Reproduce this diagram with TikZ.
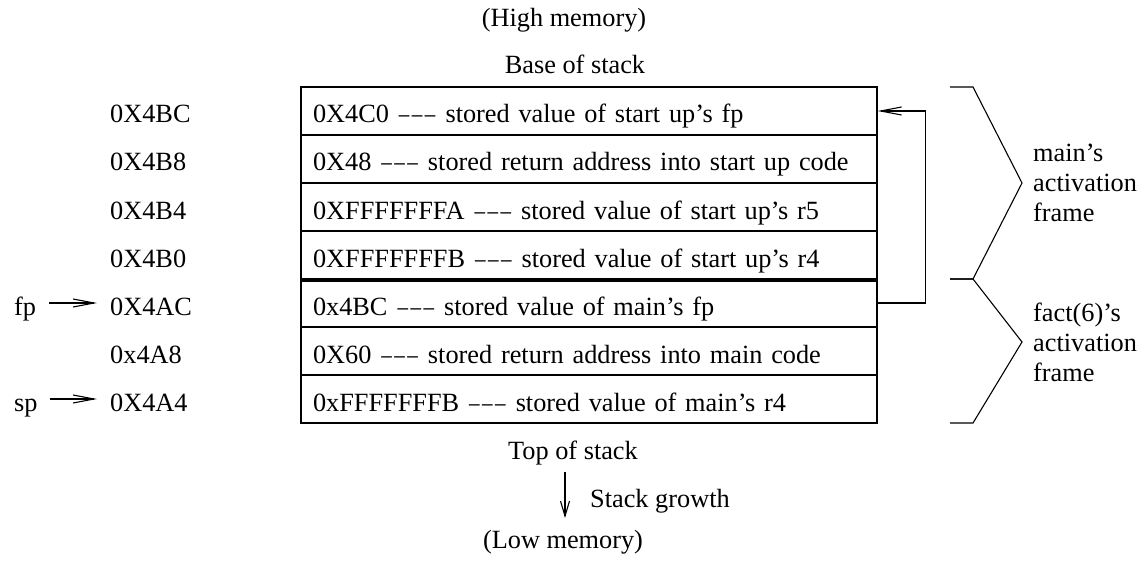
\documentclass[tikz,border=0pt]{standalone}
\usepackage{fontspec}
\usepackage{graphicx}
\setmainfont{Liberation Serif}
\usetikzlibrary{arrows.meta}
\newcommand\mydash{\makebox[13pt]{\scalebox{0.8}[1]{–}}}
\newcommand\mydashes{\mydash\mydash\mydash}
\begin{document}
\begin{tikzpicture}[x=1pt,y=-1pt,
  every node/.style={font=\fontsize{26.3}{30}\selectfont, inner sep=0pt},
  stackcell/.style={draw, line width=1.3pt, minimum width=576pt, minimum height=48pt,
    text width=552pt, align=left, inner xsep=12pt, inner ysep=0pt,
    text height=28pt, text depth=4pt},
  addrlabel/.style={anchor=west, text height=28pt, text depth=4pt},
  ptrarrow/.style={line width=1.1pt, -{Straight Barb[length=21pt,width=8pt]}},
  growarrow/.style={line width=1.1pt, -{Straight Barb[length=15pt,width=9pt]}},
  bracepath/.style={line width=1.1pt, line join=miter},
  thickline/.style={line width=4pt}]
\useasboundingbox (0,0) rectangle (1143,564);

% labels top
\node[anchor=base] (hi) at (564,27) {(High memory)};
\node[anchor=base] (base) at (575,74) {Base of stack};

% stack cells
\node[stackcell] (r1) at (589,111) {0X4C0 \mydashes{} stored value of start up’s fp};
\node[stackcell] (r2) at (589,159) {0X48 \mydashes{} stored return address into start up code};
\node[stackcell] (r3) at (589,207) {0XFFFFFFFA \mydashes{} stored value of start up’s r5};
\node[stackcell] (r4) at (589,255) {0XFFFFFFFB \mydashes{} stored value of start up’s r4};
\node[stackcell] (r5) at (589,303) {0x4BC \mydashes{} stored value of main’s fp};
\node[stackcell] (r6) at (589,351) {0X60 \mydashes{} stored return address into main code};
\node[stackcell] (r7) at (589,399) {0xFFFFFFFB \mydashes{} stored value of main’s r4};
\draw[thickline] (r4.south west) -- (r4.south east);

% addresses
\node[addrlabel] (a1) at (110,111) {0X4BC};
\node[addrlabel] (a2) at (110,159) {0X4B8};
\node[addrlabel] (a3) at (110,207) {0X4B4};
\node[addrlabel] (a4) at (110,255) {0X4B0};
\node[addrlabel] (a5) at (110,303) {0X4AC};
\node[addrlabel] (a6) at (110,351) {0x4A8};
\node[addrlabel] (a7) at (110,399) {0X4A4};

% fp / sp pointers
\node[addrlabel] (fp) at (14,303) {fp};
\node[addrlabel] (sp) at (14,399) {sp};
\draw[ptrarrow] ([xshift=13pt]fp.east) -- ([xshift=-13pt]a5.west);
\draw[ptrarrow] ([xshift=12pt]sp.east) -- ([xshift=-13pt]a7.west);

% saved fp link
\draw[ptrarrow] (r5.east) -- ++(48pt,0) |- (r1.east);

% braces
\coordinate (b1) at (950,87);
\coordinate (b2) at (973,87);
\coordinate (b3) at (1022,183);
\coordinate (b4) at (973,279);
\coordinate (b5) at (950,279);
\coordinate (c3) at (1022,342);
\coordinate (c4) at (973,423);
\coordinate (c5) at (950,423);
\draw[bracepath] (b1) -- (b2) -- (b3) -- (b4) -- (b5);
\draw[bracepath] (b5) -- (b4) -- (c3) -- (c4) -- (c5);
\node[anchor=west, align=left] (mainf) at (1033,183) {main’s\\activation\\frame};
\node[anchor=west, align=left] (factf) at (1033,342) {fact(6)’s\\activation\\frame};

% bottom labels
\node[anchor=base] (top) at (573,459) {Top of stack};
\coordinate (g1) at (565,472);
\coordinate (g2) at (565,518);
\draw[growarrow] (g1) -- (g2);
\node[anchor=base west] (growth) at (590,507) {Stack growth};
\node[anchor=base] (low) at (563,548) {(Low memory)};
\end{tikzpicture}
\end{document}
